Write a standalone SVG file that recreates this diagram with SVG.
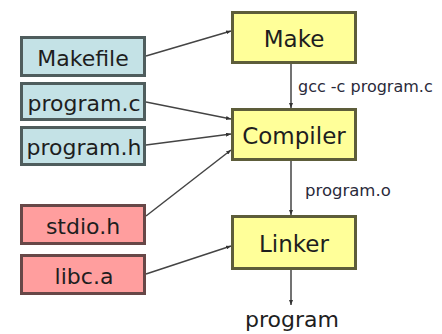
<svg xmlns="http://www.w3.org/2000/svg" width="442" height="334" viewBox="0 0 442 334">
<style>
.src rect{fill:#c4e2e6;stroke:#4f5d5d;stroke-width:3}
.lib rect{fill:#ff9e9e;stroke:#674747;stroke-width:3}
.tool rect{fill:#ffff99;stroke:#5d5d3a;stroke-width:3}
text{font-family:"DejaVu Sans",Verdana,sans-serif;text-anchor:middle;fill:#1e1e1e}
.big{font-size:22px}
.tl{font-size:23px}
.lbl{font-size:16px;text-anchor:start;fill:#2a2a3a}
.conn line{stroke:#444;stroke-width:1.5;fill:none}
</style>
<defs>
<marker id="ah" markerWidth="5" markerHeight="4" refX="5" refY="2" orient="auto" markerUnits="userSpaceOnUse">
<path d="M0,0 L5,2 L0,4 z" fill="#333"/>
</marker>
</defs>
<g id="connectors" class="conn">
<line x1="146" y1="56" x2="231" y2="31" marker-end="url(#ah)"/>
<line x1="146" y1="102" x2="231" y2="119" marker-end="url(#ah)"/>
<line x1="146" y1="145" x2="231" y2="134" marker-end="url(#ah)"/>
<line x1="146" y1="216" x2="231" y2="150" marker-end="url(#ah)"/>
<line x1="146" y1="274" x2="231" y2="246" marker-end="url(#ah)"/>
<line x1="291" y1="64" x2="291" y2="108" marker-end="url(#ah)"/>
<line x1="291" y1="161" x2="291" y2="215" marker-end="url(#ah)"/>
<line x1="291" y1="270" x2="291" y2="305" marker-end="url(#ah)"/>
<text class="lbl" x="298" y="92">gcc -c program.c</text>
<text class="lbl" x="305" y="196" style="font-size:16.5px">program.o</text>
</g>
<g id="makefile" class="src"><rect x="21.5" y="37.5" width="123" height="38"/><text class="big" x="83" y="66">Makefile</text></g>
<g id="program_c" class="src"><rect x="21.5" y="83.5" width="123" height="36"/><text class="big" x="84" y="111">program.c</text></g>
<g id="program_h" class="src"><rect x="21.5" y="127.5" width="123" height="37"/><text class="big" x="84" y="155">program.h</text></g>
<g id="stdio_h" class="lib"><rect x="21.5" y="205.5" width="123" height="38"/><text class="big" x="83" y="234">stdio.h</text></g>
<g id="libc_a" class="lib"><rect x="21.5" y="255.5" width="123" height="38"/><text class="big" x="84" y="284">libc.a</text></g>
<g id="make" class="tool"><rect x="232.5" y="12.5" width="123" height="50"/><text class="tl" x="294" y="47">Make</text></g>
<g id="compiler" class="tool"><rect x="232.5" y="109.5" width="123" height="50"/><text class="tl" x="294" y="144">Compiler</text></g>
<g id="linker" class="tool"><rect x="232.5" y="216.5" width="123" height="52"/><text class="tl" x="294" y="252">Linker</text></g>
<g id="program"><text class="big" x="292" y="327">program</text></g>
</svg>
